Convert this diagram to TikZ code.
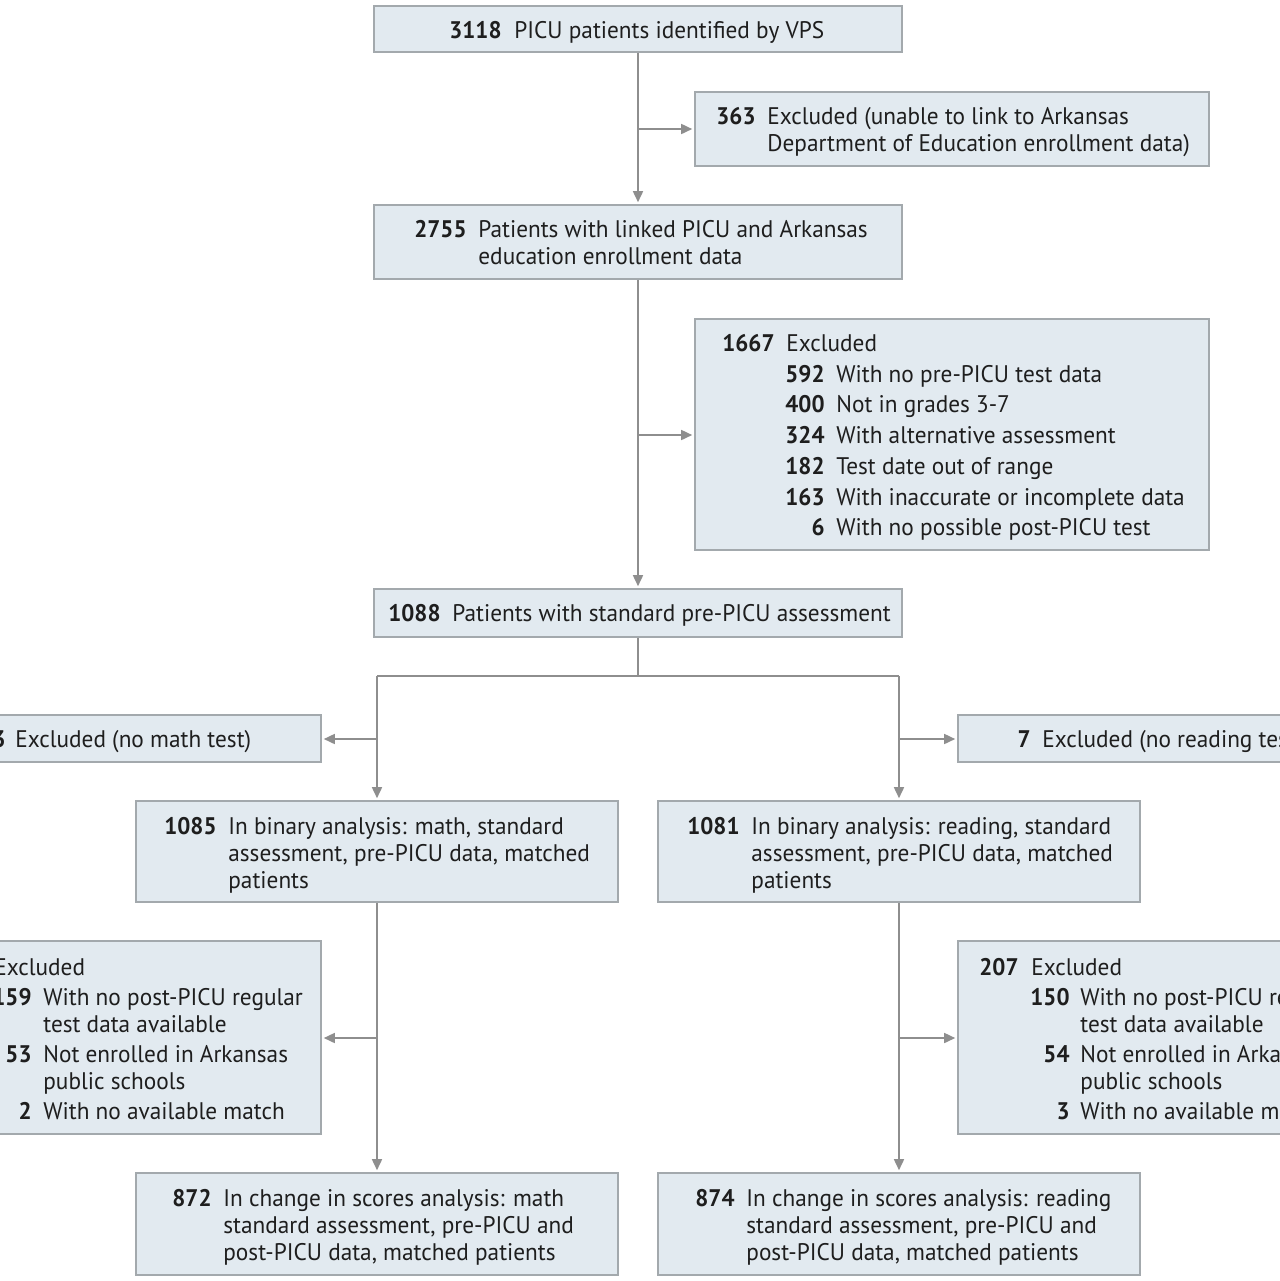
\documentclass[tikz,border=0pt]{standalone}
\usepackage{fontspec}
\setmainfont{PT Sans}[FakeStretch=0.97,BoldFeatures={FakeStretch=0.96}]
\usetikzlibrary{arrows.meta}
\definecolor{boxfill}{HTML}{E2EAF0}
\definecolor{boxline}{HTML}{A3A9AD}
\definecolor{connc}{HTML}{8E8E8E}
\definecolor{ink}{HTML}{1E1E1E}
\newcounter{tlc}
\newcommand\tx[3]{\stepcounter{tlc}\node[txt] (tl\arabic{tlc}) at (#1,#2) {#3};}
\newcommand\nm[3]{\stepcounter{tlc}\node[num] (nm\arabic{tlc}) at (#1,#2) {#3};}
\begin{document}
\begin{tikzpicture}[x=0.5pt,y=-0.5pt,
  box/.style={draw=boxline, fill=boxfill, line width=0.8pt, inner sep=0pt},
  txt/.style={anchor=base west, inner sep=0pt, text=ink, font=\fontsize{12}{14}\selectfont},
  num/.style={anchor=base east, inner sep=0pt, text=ink, font=\fontsize{12}{14}\selectfont\bfseries},
  conn/.style={draw=connc, line width=0.8pt},
  arr/.style={conn, -{Triangle[length=5.5pt,width=5pt]}, shorten >=1pt}]
\useasboundingbox (0,0) rectangle (1280,1281);
\clip (0,0) rectangle (1280,1281);
\fill[white] (0,0) rectangle (1280,1281);

% boxes
\node[box, minimum width=264pt, minimum height=23pt] (b1) at (638,29) {};
\node[box, minimum width=257pt, minimum height=37pt] (b363) at (952,129) {};
\node[box, minimum width=264pt, minimum height=37pt] (b2) at (638,242) {};
\node[box, minimum width=257pt, minimum height=115.5pt] (b1667) at (952,434.5) {};
\node[box, minimum width=264pt, minimum height=24pt] (b1088) at (638,613) {};
\node[box, minimum width=257pt, minimum height=23.5pt] (bm0) at (64,738.5) {};
\node[box, minimum width=257pt, minimum height=23.5pt] (br0) at (1215,738.5) {};
\node[box, minimum width=241pt, minimum height=50.5pt] (b1085) at (377,851.5) {};
\node[box, minimum width=241pt, minimum height=50.5pt] (b1081) at (899,851.5) {};
\node[box, minimum width=257pt, minimum height=96.5pt] (bm2) at (64,1037.5) {};
\node[box, minimum width=257pt, minimum height=96.5pt] (br2) at (1215,1037.5) {};
\node[box, minimum width=241pt, minimum height=51pt] (b872) at (377,1224) {};
\node[box, minimum width=241pt, minimum height=51pt] (b874) at (899,1224) {};

% connectors
\coordinate (j1) at (638,129);
\coordinate (j2) at (638,435);
\coordinate (j3) at (638,676);
\coordinate (jl) at (377,676);
\coordinate (jr) at (899,676);
\coordinate (jl2) at (377,739);
\coordinate (jr2) at (899,739);
\coordinate (jl3) at (377,1038);
\coordinate (jr3) at (899,1038);
\draw[arr] (b1) -- (b2);
\draw[arr] (j1) -- (b363.west |- j1);
\draw[arr] (b2) -- (b1088);
\draw[arr] (j2) -- (b1667.west |- j2);
\draw[conn] (b1088.south) -- (j3);
\draw[conn] (jl) -- (jr);
\draw[arr] (jl) -- (b1085.north);
\draw[arr] (jr) -- (b1081.north);
\draw[arr] (jl2) -- (bm0.east |- jl2);
\draw[arr] (jr2) -- (br0.west |- jr2);
\draw[arr] (b1085) -- (b872);
\draw[arr] (b1081) -- (b874);
\draw[arr] (jl3) -- (bm2.east |- jl3);
\draw[arr] (jr3) -- (br2.west |- jr3);

% texts
\nm{502}{38}{3118}\tx{514}{38}{PICU patients identified by VPS}

\nm{756}{124.5}{363}\tx{767}{124.5}{Excluded (unable to link to Arkansas}
\tx{767}{151.5}{Department of Education enrollment data)}

\nm{467}{237.5}{2755}\tx{478}{237.5}{Patients with linked PICU and Arkansas}
\tx{478}{264.5}{education enrollment data}

\nm{775}{351.5}{1667}\tx{786}{351.5}{Excluded}
\nm{825}{382.2}{592}\tx{836}{382.2}{With no pre-PICU test data}
\nm{825}{412.9}{400}\tx{836}{412.9}{Not in grades 3-7}
\nm{825}{443.6}{324}\tx{836}{443.6}{With alternative assessment}
\nm{825}{474.3}{182}\tx{836}{474.3}{Test date out of range}
\nm{825}{505.0}{163}\tx{836}{505.0}{With inaccurate or incomplete data}
\nm{825}{535.7}{6}\tx{836}{535.7}{With no possible post-PICU test}

\nm{441}{621.5}{1088}\tx{452}{621.5}{Patients with standard pre-PICU assessment}

\nm{6}{747.5}{3}\tx{15}{747.5}{Excluded (no math test)}
\nm{1031}{747.5}{7}\tx{1042}{747.5}{Excluded (no reading test)}

\nm{217}{834.5}{1085}\tx{228}{834.5}{In binary analysis: math, standard}
\tx{228}{861.5}{assessment, pre-PICU data, matched}
\tx{228}{888.5}{patients}

\nm{740}{834.5}{1081}\tx{751}{834.5}{In binary analysis: reading, standard}
\tx{751}{861.5}{assessment, pre-PICU data, matched}
\tx{751}{888.5}{patients}

\nm{-19}{975}{213}\tx{-6}{975}{Excluded}
\nm{32}{1005.5}{159}\tx{43}{1005.5}{With no post-PICU regular}
\tx{43}{1032}{test data available}
\nm{32}{1062}{53}\tx{43}{1062}{Not enrolled in Arkansas}
\tx{43}{1089}{public schools}
\nm{32}{1119}{2}\tx{43}{1119}{With no available match}

\nm{1019}{975}{207}\tx{1031}{975}{Excluded}
\nm{1070}{1005.5}{150}\tx{1080}{1005.5}{With no post-PICU regular}
\tx{1080}{1032}{test data available}
\nm{1070}{1062}{54}\tx{1080}{1062}{Not enrolled in Arkansas}
\tx{1080}{1089}{public schools}
\nm{1070}{1119}{3}\tx{1080}{1119}{With no available match}

\nm{212}{1206.5}{872}\tx{223}{1206.5}{In change in scores analysis: math}
\tx{223}{1233.5}{standard assessment, pre-PICU and}
\tx{223}{1260.5}{post-PICU data, matched patients}

\nm{735}{1206.5}{874}\tx{746}{1206.5}{In change in scores analysis: reading}
\tx{746}{1233.5}{standard assessment, pre-PICU and}
\tx{746}{1260.5}{post-PICU data, matched patients}
\end{tikzpicture}
\end{document}
